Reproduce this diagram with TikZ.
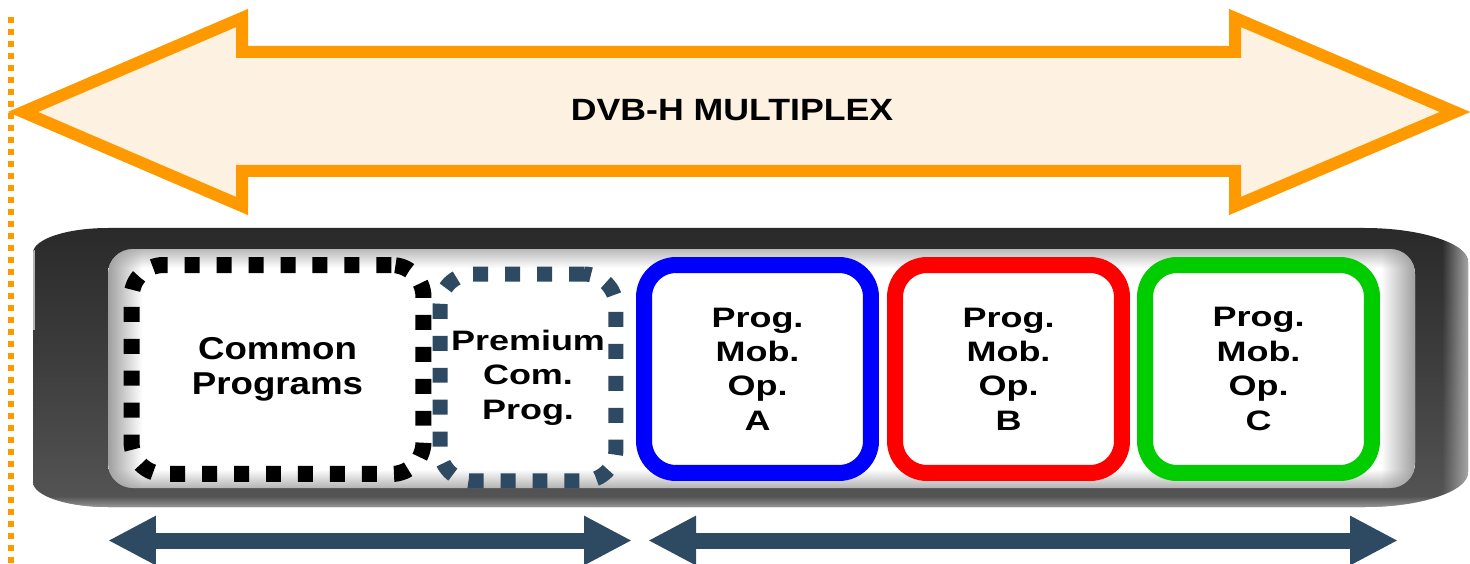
\documentclass[tikz,border=0pt]{standalone}
\usepackage{fontspec}
\usetikzlibrary{arrows.meta, fadings}
\newfontfamily\boxfont[FakeStretch=1.28]{Liberation Sans}
\newfontfamily\widefont[FakeStretch=1.16]{Liberation Sans}
\definecolor{mxorange}{HTML}{FF9900}
\definecolor{mxcream}{HTML}{FDF2E1}
\definecolor{mxslate}{HTML}{2E4A62}
\definecolor{mxgreen}{HTML}{00CC00}
\definecolor{tubetop}{HTML}{2A2A2A}
\definecolor{tubemid}{HTML}{3E3E3E}
\definecolor{tubebot}{HTML}{555555}
\pgfdeclareverticalshading{tubeglow}{100bp}{color(0bp)=(gray!60); color(25bp)=(gray!60); color(29bp)=(white); color(71bp)=(white); color(75bp)=(gray!55); color(100bp)=(gray!55)}
\tikzset{
    prog/.style={
        draw,
        rounded corners=0.64cm,
        line width=0.32cm,
        minimum width=4.54cm,
        minimum height=4.16cm,
        align=center,
        inner sep=0pt,
        font=\boxfont\bfseries\fontsize{16}{19.6}\selectfont
    },
    common/.style={
        prog,
        dash pattern=on 0.3cm off 0.34cm
    },
    span/.style={
        draw=mxslate,
        line width=0.32cm,
        {Triangle[length=0.96cm,width=0.92cm]}-{Triangle[length=0.96cm,width=0.92cm]}
    }
}

\begin{document}
\begin{tikzpicture}[x=0.02cm,y=-0.02cm]
	\useasboundingbox (0,0) rectangle (1470,564);
	% tube
	\path[top color=tubetop, bottom color=tubebot, middle color=tubemid]
	(33,253) .. controls (33,239) and (67,228) .. (108,228) -- (1365,228)
	.. controls (1420,228) and (1468,243) .. (1468,262) -- (1468,472)
	.. controls (1468,492) and (1420,507) .. (1365,507) -- (108,507)
	.. controls (67,507) and (33,496) .. (33,482) -- cycle;
	\begin{scope}
		\clip (33,253) .. controls (33,239) and (67,228) .. (108,228) -- (1365,228)
		.. controls (1420,228) and (1468,243) .. (1468,262) -- (1468,472)
		.. controls (1468,492) and (1420,507) .. (1365,507) -- (108,507)
		.. controls (67,507) and (33,496) .. (33,482) -- cycle;
		\fill[gray!70, path fading=west] (1442,220) rectangle (1468,510);
		\fill[gray!60] (30,250) rectangle (35,330);
		\fill[gray!70, path fading=north] (30,496) rectangle (1470,510);
	\end{scope}
	\shade[shading=tubeglow, rounded corners=0.5cm] (108,249) rectangle (1415,488);
	\begin{scope}
		\clip[rounded corners=0.5cm] (108,249) rectangle (1415,488);
		\fill[gray!75, path fading=east] (108,249) rectangle (142,488);
		\fill[gray!75, path fading=west] (1381,249) rectangle (1415,488);
	\end{scope}

	% multiplex arrow
	\filldraw[mxorange, fill=mxcream, line width=0.24cm]
	(23,112) -- (242,18) -- (242,52) -- (1235,52) -- (1235,18) -- (1455,112)
	-- (1235,206) -- (1235,171) -- (242,171) -- (242,206) -- cycle;
	\node[font=\widefont\bfseries\fontsize{17.5}{20}\selectfont, anchor=base] (mux) at (732,121) {DVB-H MULTIPLEX};
	\draw[mxorange, line width=0.12cm, dash pattern=on 0.12cm off 0.12cm] (11,17) -- (11,564);

	% programs
	\node[common, draw=black, minimum width=5.84cm, minimum height=4.18cm,
	font=\widefont\bfseries\fontsize{18}{19.8}\selectfont] (cp) at (277.5,369.5) {Common\\Programs};
	\node[common, draw=mxslate, line width=0.3cm, minimum width=3.52cm, minimum height=4.14cm] (pcp) at (528,377.5) {Premium\\Com.\\Prog.};
	\node[prog, draw=blue] (opA) at (757.5,369) {Prog.\\Mob.\\Op.\\A};
	\node[prog, draw=red] (opB) at (1008.5,369) {Prog.\\Mob.\\Op.\\B};
	\node[prog, draw=mxgreen] (opC) at (1258.5,369) {Prog.\\Mob.\\Op.\\C};

	% spans
	\coordinate (sL) at (108,540.5);
	\coordinate (sR) at (632,540.5);
	\coordinate (mL) at (648,540.5);
	\coordinate (mR) at (1398,540.5);
	\draw
	(sL) edge[span] (sR)
	(mL) edge[span] (mR);
\end{tikzpicture}
\end{document}
